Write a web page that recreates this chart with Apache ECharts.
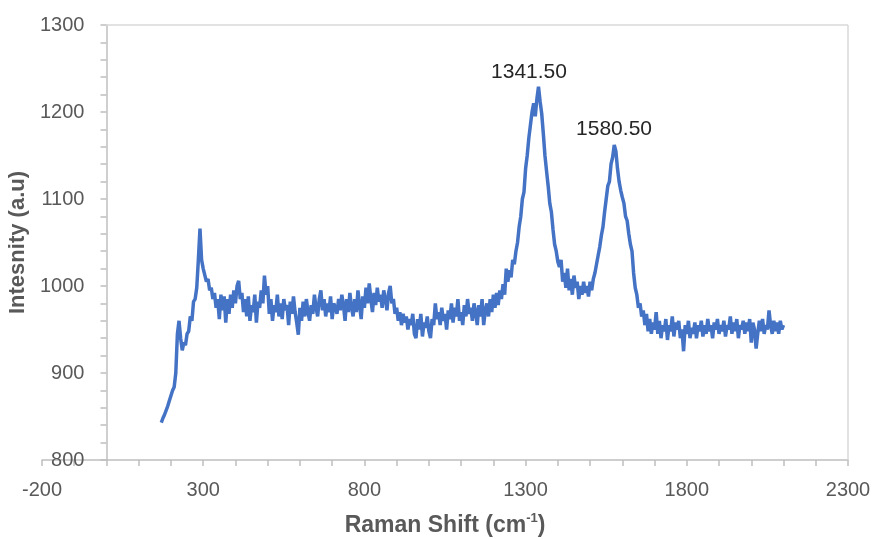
<!DOCTYPE html>
<html>
<head>
<meta charset="utf-8">
<script src="https://cdn.jsdelivr.net/npm/echarts@6/dist/echarts.min.js"></script>
<style>
    html, body { margin: 0; padding: 0; background: #fff; }
    #chart { width: 874px; height: 539px; }
</style>
</head>
<body>
<div id="chart"></div>
<script>
// spectrum sampled every 5 cm-1, starting at 170
const shiftStart = 170;
const shiftStep = 5;
const intensity = [
    843, 848, 852, 850, 862, 868, 870, 880, 884, 900,           // 170
    945, 960, 940, 926, 935, 932, 945, 948, 965, 960,           // 220
    982, 985, 998, 1030, 1066, 1030, 1020, 1022, 1005, 1008,    // 270
    995, 998, 985, 992, 975, 985, 962, 990, 972, 988,           // 320
    958, 985, 968, 990, 975, 995, 980, 1000, 1006, 985,         // 370
    992, 970, 985, 965, 988, 960, 978, 970, 990, 958,           // 420
    982, 975, 995, 980, 1012, 990, 1000, 968, 985, 960,         // 470
    978, 970, 990, 965, 980, 962, 985, 972, 978, 955,           // 520
    982, 968, 988, 970, 958, 944, 975, 960, 982, 965,           // 570
    985, 970, 960, 978, 968, 990, 975, 965, 985, 995,           // 620
    972, 985, 965, 980, 970, 988, 962, 980, 975, 968,           // 670
    985, 972, 990, 978, 960, 985, 970, 992, 975, 965,           // 720
    985, 970, 995, 978, 962, 988, 975, 998, 980, 1003,          // 770
    985, 970, 992, 978, 998, 982, 990, 975, 995, 985,           // 820
    972, 992, 1000, 980, 985, 968, 975, 960, 970, 955,          // 870
    968, 958, 965, 950, 962, 955, 968, 945, 940, 962,           // 920
    950, 968, 942, 958, 952, 965, 948, 940, 962, 955,           // 970
    980, 962, 970, 955, 975, 960, 968, 950, 972, 962,           // 1020
    980, 958, 975, 965, 985, 960, 970, 955, 978, 965,           // 1070
    985, 968, 975, 960, 980, 970, 955, 978, 965, 985,           // 1120
    955, 972, 980, 965, 985, 970, 990, 975, 992, 978,           // 1170
    995, 985, 1002, 990, 1020, 1005, 1018, 1010, 1030, 1025,    // 1220
    1040, 1050, 1068, 1080, 1100, 1108, 1135, 1150, 1170, 1185, // 1270
    1200, 1210, 1195, 1215, 1229, 1212, 1198, 1175, 1150, 1132, // 1320
    1115, 1095, 1085, 1065, 1048, 1040, 1028, 1022, 1030, 1005, // 1370
    1015, 998, 1020, 995, 1008, 990, 1012, 998, 1005, 985,      // 1420
    1000, 990, 1005, 992, 1000, 988, 1005, 995, 1008, 1015,     // 1470
    1025, 1035, 1045, 1058, 1068, 1085, 1100, 1115, 1120, 1140, // 1520
    1148, 1162, 1155, 1135, 1120, 1110, 1102, 1095, 1080, 1075, // 1570
    1060, 1048, 1040, 1015, 998, 990, 975, 980, 965, 972,       // 1620
    955, 968, 948, 962, 945, 958, 950, 970, 945, 960,           // 1670
    940, 955, 948, 962, 938, 955, 948, 965, 942, 958,           // 1720
    950, 960, 940, 950, 925, 955, 945, 960, 940, 952,           // 1770
    945, 958, 940, 955, 948, 960, 942, 955, 945, 962,           // 1820
    948, 955, 940, 958, 950, 962, 945, 955, 948, 960,           // 1870
    942, 955, 950, 965, 945, 958, 948, 962, 940, 955,           // 1920
    950, 960, 945, 958, 948, 962, 935, 958, 950, 928,           // 1970
    945, 960, 948, 962, 945, 955, 950, 972, 955, 945,           // 2020
    960, 948, 958, 945, 960, 950, 955                           // 2070 - 2100
];

const peakShifts = [1341.5, 1580.5];
const peakIntensity = [1229, 1163];
const peakLabels = ['1341.50', '1580.50'];

const xTicks = { min: -200, max: 2300, interval: 500 };
const yTicks = { min: 800, max: 1300, interval: 100 };

const seriesData = intensity.map((v, i) => [shiftStart + i * shiftStep, v]);

const axisGray = '#bfbfbf';
const textGray = '#595959';
const font = 'Liberation Sans, Arial, sans-serif';

const gridLeft = 42, gridRight = 26;
const plotWidth = 874 - gridLeft - gridRight;
// y axis crosses the x axis at 0
const yAxisOffset = -plotWidth * (0 - xTicks.min) / (xTicks.max - xTicks.min);

var chart = echarts.init(document.getElementById('chart'));
var option = {
    animation: false,
    backgroundColor: '#fff',
    grid: { left: gridLeft, right: gridRight, top: 25, bottom: 79, containLabel: false, outerBoundsMode: 'none' },
    xAxis: {
        type: 'value',
        min: xTicks.min, max: xTicks.max, interval: xTicks.interval,
        name: '{b|Raman Shift (cm}{sup|-1}{b|)}',
        nameLocation: 'middle',
        nameGap: 52,
        nameTextStyle: {
            rich: {
                b: { fontSize: 23, fontWeight: 'bold', color: textGray, fontFamily: font, lineHeight: 28 },
                sup: { fontSize: 13, fontWeight: 'bold', color: textGray, fontFamily: font, verticalAlign: 'top', lineHeight: 28 }
            }
        },
        axisLine: { show: true, onZero: false, lineStyle: { color: axisGray, width: 1.5 } },
        axisTick: { show: true, length: 6, lineStyle: { color: axisGray, width: 1.5 } },
        minorTick: { show: true, splitNumber: 5, length: 6, lineStyle: { color: axisGray, width: 1.5 } },
        splitLine: { show: false },
        axisLabel: { color: textGray, fontSize: 20, fontFamily: font, margin: 20, formatter: v => String(v) }
    },
    yAxis: {
        type: 'value',
        min: yTicks.min, max: yTicks.max, interval: yTicks.interval,
        offset: yAxisOffset,
        name: 'Intesnity (a.u)',
        nameLocation: 'middle',
        nameGap: 76,
        nameTextStyle: { fontSize: 22, fontWeight: 'bold', color: textGray, fontFamily: font },
        axisLine: { show: true, onZero: false, lineStyle: { color: axisGray, width: 1.5 } },
        axisTick: { show: true, length: 6, lineStyle: { color: axisGray, width: 1.5 } },
        minorTick: { show: true, splitNumber: 5, length: 6, lineStyle: { color: axisGray, width: 1.5 } },
        splitLine: { show: false },
        axisLabel: { color: textGray, fontSize: 20, fontFamily: font, margin: 22, formatter: v => String(v) }
    },
    series: [
        {
            name: 'Raman',
            type: 'line',
            data: seriesData,
            showSymbol: false,
            symbol: 'none',
            lineStyle: { color: '#4472C4', width: 3.5 },
            markLine: {
                silent: true,
                symbol: ['none', 'none'],
                label: { show: false },
                lineStyle: { color: '#d9d9d9', width: 1.5, type: 'solid' },
                data: [
                    [{ coord: [0, yTicks.max] }, { coord: [xTicks.max, yTicks.max] }],
                    [{ coord: [xTicks.max, yTicks.min] }, { coord: [xTicks.max, yTicks.max] }]
                ]
            },
            markPoint: {
                symbol: 'circle',
                symbolSize: 0,
                silent: true,
                label: {
                    show: true,
                    position: 'top',
                    distance: 4,
                    color: '#262626',
                    fontSize: 21,
                    fontFamily: font,
                    formatter: p => p.name
                },
                data: peakShifts.map((s, i) => ({
                    name: peakLabels[i],
                    coord: [s, peakIntensity[i]],
                    label: { offset: [i === 0 ? -10 : -2, 0] }
                }))
            }
        }
    ]
};
option && chart.setOption(option);
</script>
</body>
</html>
